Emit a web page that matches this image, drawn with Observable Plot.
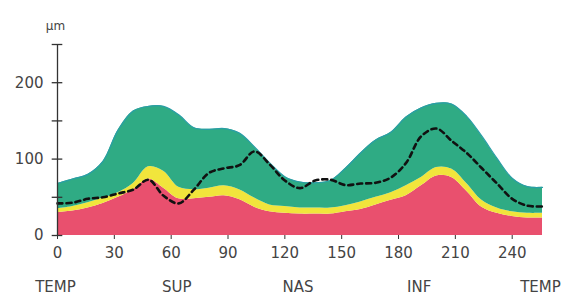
<!DOCTYPE html>
<html>
<head>
<meta charset="utf-8">
<script src="https://cdn.jsdelivr.net/npm/d3@7"></script>
<script src="https://cdn.jsdelivr.net/npm/@observablehq/plot@0.6"></script>
<style>
  html, body { margin: 0; padding: 0; background: #fff; }
  #chart { width: 563px; height: 297px; overflow: hidden; }
</style>
</head>
<body>
<div id="chart"></div>
<script>
// Scan position (degrees)
const angles = [0, 8, 16, 24, 32, 40, 48, 56, 64, 72, 80, 88, 96, 104, 112, 120, 128,
                136, 144, 152, 160, 168, 176, 184, 192, 200, 208, 216, 224, 232, 240, 248, 256];
// Normative limits (µm)
const p1  = [30, 32, 36, 42, 50, 60, 74, 62, 48, 48, 50, 52, 47, 37, 31, 29, 28,
             28, 28, 31, 34, 40, 46, 52, 65, 78, 76, 58, 37, 29, 25, 23, 23];
const p5  = [35, 38, 43, 49, 56, 68, 90, 84, 63, 60, 62, 65, 60, 49, 40, 38, 36,
             36, 36, 39, 44, 50, 56, 65, 76, 89, 87, 68, 46, 36, 31, 29, 29];
const p95 = [68, 74, 80, 97, 138, 163, 169, 169, 158, 141, 139, 140, 134, 116, 95, 77, 70,
             69, 72, 88, 108, 125, 135, 155, 167, 173, 172, 156, 130, 101, 75, 64, 63];
// Patient RNFL thickness (µm)
const patient = [42, 43, 48, 50, 55, 60, 73, 52, 42, 60, 82, 88, 92, 110, 93, 72, 62,
                 72, 73, 66, 68, 69, 76, 95, 130, 140, 124, 108, 88, 68, 48, 39, 38];

const xTicks = [0, 30, 60, 90, 120, 150, 180, 210, 240];
const yTicks = [0, 50, 100, 150, 200, 250];
const yLabels = [0, 100, 200];
const sectorAngles = [0, 64, 128, 192, 256];
const sectorLabels = ["TEMP", "SUP", "NAS", "INF", "TEMP"];

const data = angles.map((a, i) => ({a, p1: p1[i], p5: p5[i], p95: p95[i], pt: patient[i]}));

const red = "#e9506e", yellow = "#f1e53c", green = "#2fab84", edge = "#2a9ea6";
const curve = "catmull-rom";

const chart = Plot.plot({
  width: 563,
  height: 297,
  marginLeft: 57,
  marginRight: 21,
  marginTop: 44,
  marginBottom: 62,
  x: {domain: [0, 256]},
  y: {domain: [0, 250]},
  style: {fontFamily: "'DejaVu Sans', Verdana, sans-serif", fontSize: "15px", color: "#444", background: "#fff"},
  marks: [
    Plot.areaY(data, {x: "a", y1: 0, y2: "p1", fill: red, curve}),
    Plot.areaY(data, {x: "a", y1: "p1", y2: "p5", fill: yellow, curve}),
    Plot.areaY(data, {x: "a", y1: "p5", y2: "p95", fill: green, curve}),
    Plot.lineY(data, {x: "a", y: "p95", stroke: edge, strokeWidth: 1.2, curve}),
    Plot.lineY(data, {x: "a", y: "pt", stroke: "#111", strokeWidth: 2.6, strokeDasharray: "5,4", curve}),
    // vertical axis line with crossing ticks
    Plot.ruleX([0], {y1: 0, y2: 250, stroke: "#333", strokeWidth: 1.3}),
    Plot.ruleY(yTicks, {y: d => d, x1: -2.8, x2: 2.8, stroke: "#333", strokeWidth: 1.3}),
    Plot.axisY({ticks: yLabels, tickSize: 0, tickPadding: 14, label: null}),
    Plot.text(["µm"], {frameAnchor: "top-left", dx: -2, dy: -23, fontSize: 12, textAnchor: "middle", fill: "#444"}),
    Plot.axisX({ticks: xTicks, tickSize: 4, tickPadding: 8, label: null, stroke: "#333"}),
    Plot.axisX({ticks: sectorAngles, tickSize: 0, tickPadding: 46, fontSize: 15, label: null, dx: -2,
                tickFormat: d => sectorLabels[sectorAngles.indexOf(d)]})
  ]
});
document.getElementById("chart").appendChild(chart);
</script>
</body>
</html>
